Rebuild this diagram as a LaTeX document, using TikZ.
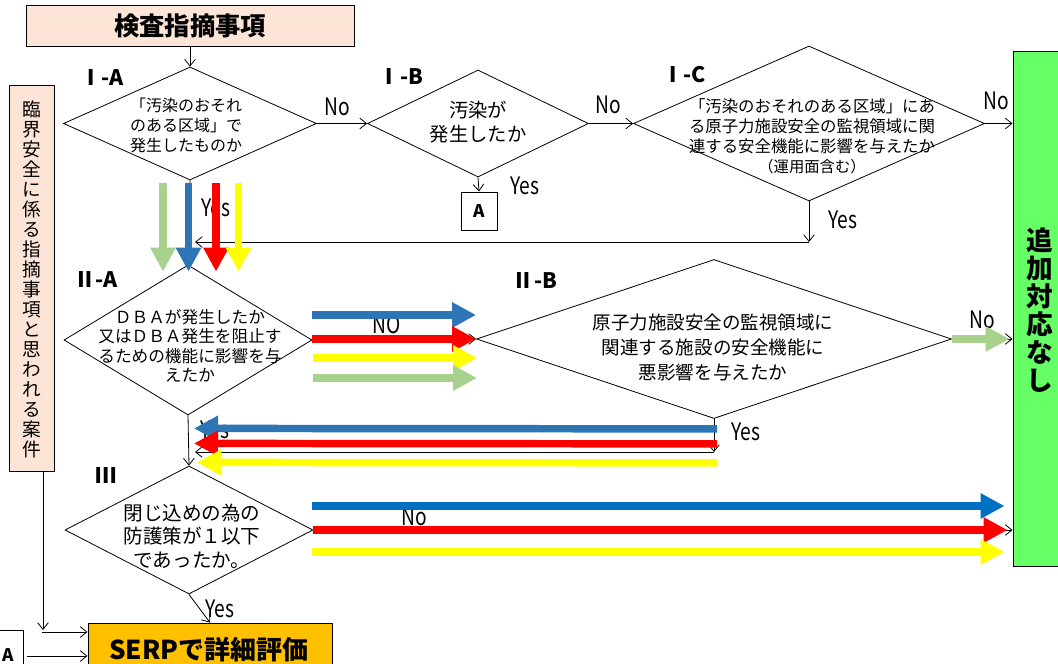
\documentclass[tikz,border=0pt]{standalone}
\usepackage{fontspec}
\setmainfont{Noto Sans CJK JP}
\newfontfamily\condfont{Noto Sans CJK JP}[FakeStretch=0.8]
\usetikzlibrary{shapes.geometric,arrows.meta,calc}
\definecolor{peach}{HTML}{FCE4D6}
\definecolor{serpor}{HTML}{FFC000}
\definecolor{gbox}{HTML}{66FF66}
\definecolor{fblue}{HTML}{2E75B6}
\definecolor{fbluetwo}{HTML}{0070C0}
\definecolor{fred}{HTML}{FF0000}
\definecolor{fyel}{HTML}{FFFF00}
\definecolor{fgreen}{HTML}{A9D18E}
\newcommand{\pxu}{0.75pt}
\tikzset{
  dia/.style={draw, diamond, inner sep=0pt, line width=0.6pt},
  boxst/.style={draw, rectangle, inner sep=0pt, line width=0.7pt},
  conn/.style={draw, line width=0.6pt, -{Straight Barb[length=5pt,width=8pt]}},
  fat/.style={line width=5.6pt, -{Triangle[length=18pt,width=18pt]}},
  lab/.style={font=\condfont\fontsize{18}{18}\selectfont, inner sep=0pt},
  hd/.style={font=\bfseries\fontsize{16}{16}\selectfont, inner sep=0pt},
  txt/.style={align=center, inner sep=0pt},
}
\begin{document}
\begin{tikzpicture}[x=0.75pt,y=-0.75pt]
\clip (0,0) rectangle (1058,664);
\fill[white] (0,0) rectangle (1058,664);

% boxes
\node[boxst, fill=peach, minimum width=328*\pxu, minimum height=41*\pxu,
      font=\bfseries\fontsize{19}{19}\selectfont] (top) at (190,25.5) {検査指摘事項};
\node[boxst, fill=peach, minimum width=45*\pxu, minimum height=386*\pxu] (lb) at (31.5,278) {};
\node[txt, font=\fontsize{14}{15}\selectfont] (lbt) at (31.5,279)
  {臨\\界\\安\\全\\に\\係\\る\\指\\摘\\事\\項\\と\\思\\わ\\れ\\る\\案\\件};
\node[boxst, fill=gbox, minimum width=62*\pxu, minimum height=515*\pxu] (gb) at (1044,308.5) {};
\node[txt, font=\bfseries\fontsize{20}{21}\selectfont] (gbt) at (1040,310) {追\\加\\対\\応\\な\\し};
\node[boxst, minimum width=36*\pxu, minimum height=38*\pxu, font=\bfseries\fontsize{13}{13}\selectfont] (a1) at (479,211) {A};
\node[boxst, minimum width=43*\pxu, minimum height=60*\pxu] (a2) at (1.5,660) {};
\node[hd, font=\bfseries\fontsize{13}{13}\selectfont] (a2t) at (8,655) {A};
\node[boxst, fill=serpor, minimum width=244*\pxu, minimum height=67*\pxu] (serp) at (210,656.5) {};
\node[inner sep=0pt, font=\bfseries\fontsize{19.5}{20}\selectfont] (serpt) at (209,650) {SERPで詳細評価};

% diamonds
\node[dia, minimum width=253*\pxu, minimum height=113*\pxu] (ia) at (190,123.5) {};
\node[txt, font=\fontsize{12}{15}\selectfont] (iat) at (186,125) {「汚染のおそれ\\のある区域」で\\発生したものか};
\node[dia, minimum width=221*\pxu, minimum height=107*\pxu] (ib) at (478,123.5) {};
\node[txt, font=\fontsize{14.5}{18.5}\selectfont] (ibt) at (478,122) {汚染が\\発生したか};
\node[dia, minimum width=351*\pxu, minimum height=155*\pxu] (ic) at (809,123.5) {};
\node[txt, font=\fontsize{12.3}{15}\selectfont] (ict) at (812,136)
  {「汚染のおそれのある区域」にあ\\る原子力施設安全の監視領域に関\\連する安全機能に影響を与えたか\\{\fontsize{11.5}{13}\selectfont （運用面含む）}};
\node[dia, minimum width=248*\pxu, minimum height=150*\pxu] (iia) at (188,340) {};
\node[txt, font=\fontsize{12.5}{14.6}\selectfont] (iiat) at (190,346)
  {ＤＢＡが発生したか\\又はＤＢＡ発生を阻止す\\るための機能に影響を与\\えたか};
\node[dia, minimum width=475*\pxu, minimum height=159*\pxu] (iib) at (714,339) {};
\node[txt, font=\fontsize{13.9}{18.75}\selectfont] (iibt) at (713,347)
  {原子力施設安全の監視領域に\\関連する施設の安全機能に\\悪影響を与えたか};
\node[dia, minimum width=248*\pxu, minimum height=128*\pxu] (iii) at (189,530) {};
\node[txt, font=\fontsize{14.7}{17.6}\selectfont] (iiit) at (192,536)
  {閉じ込めの為の\\防護策が１以下\\であったか。};

% headings
\node[hd] (hia) at (102,78) {Ⅰ-A};
\node[hd] (hib) at (401,77) {Ⅰ-B};
\node[hd] (hic) at (684,75) {Ⅰ-C};
\node[hd] (hiia) at (96,280) {Ⅱ-A};
\node[hd] (hiib) at (535,281) {Ⅱ-B};
\node[hd] (hiii) at (106,476) {Ⅲ};

% thin connectors
\coordinate (c1) at (809,242);
\coordinate (c2) at (195,242);
\coordinate (c3) at (714,452);
\coordinate (c4) at (195,452);
\coordinate (d1) at (43,630);
\coordinate (d2) at (42,632);
\coordinate (d3) at (27,656);
\draw[conn] (top.south) -- (ia.north);
\draw[conn] (ia.east) -- (ib.west);
\draw[conn] (ib.east) -- (ic.west);
\draw[conn] (ic.east) -- (ic.east -| gb.west);
\draw[conn] (ib.south) -- (a1.north);
\draw[conn] (ic.south) -- (c1);
\draw[conn] (c1) -- (c2);
\draw[conn] (ia.south) -- (iia.north);
\draw[conn] (iia.east) -- (iib.west);
\draw[conn] (iib.east) -- (iib.east -| gb.west);
\draw[conn] (iib.south) -- (c3);
\draw[conn] (c3) -- (c4);
\draw[conn] (iia.south) -- (iii.north);
\draw[conn] (iii.east) -- (iii.east -| gb.west);
\draw[conn] (iii.south) -- (serp.north);
\draw[conn] (lb.south -| d1) -- (d1);
\draw[conn] (d2) -- (d2 -| serp.west);
\draw[conn] (d3) -- (d3 -| serp.west);

% yes/no labels
\node[lab] (no1) at (337,107) {No};
\node[lab] (no2) at (608,105) {No};
\node[lab] (no3) at (996,101) {No};
\node[lab] (yes1) at (525,186) {Yes};
\node[lab] (yes2) at (843,220) {Yes};
\node[lab] (yes3) at (216,208) {Yes};
\node[lab] (no4) at (387,325) {NO};
\node[lab] (no5) at (982,320) {No};
\node[lab] (yes4) at (746,432) {Yes};
\node[lab] (yes5) at (215,430) {Yes};
\node[lab] (no6) at (414,517) {No};
\node[lab] (yes6) at (220,609) {Yes};

% fat arrows: I-A down to II-A
\draw[fat, fgreen]   ($(ia.south)+(-27,3)$)  -- ($(iia.north)+(-25,7)$);
\draw[fat, fblue]    ($(ia.south)+(-1.5,3)$) -- ($(iia.north)+(0.5,7)$);
\draw[fat, fred]     ($(ia.south)+(26,3)$)   -- ($(iia.north)+(28,7)$);
\draw[fat, fyel]     ($(ia.south)+(48.5,3)$) -- ($(iia.north)+(50.5,7)$);
% II-A to II-B
\draw[fat, fblue]    ($(iia.east)+(0,-25)$) -- ($(iib.west)+(0,-24)$);
\draw[fat, fred]     ($(iia.east)+(0,-1)$)  -- ($(iib.west)+(0,0)$);
\draw[fat, fyel]     ($(iia.east)+(1,18)$)  -- ($(iib.west)+(1,19)$);
\draw[fat, fgreen]   ($(iia.east)+(1,38)$)  -- ($(iib.west)+(1,39)$);
% II-B back to II-A / III
\draw[fat, fblue]    ($(iib.south)+(3,10)$) -- ($(iia.south)+(6,13)$);
\draw[fat, fred]     ($(iib.south)+(3,25)$) -- ($(iia.south)+(6,28)$);
\draw[fat, fyel]     ($(iib.south)+(3,44)$) -- ($(iia.south)+(9,47)$);
% II-B to green box
\draw[fat, fgreen]   (iib.east) -- ($(iib.east -| gb.west)+(-3,0)$);
% III to green box
\draw[fat, fbluetwo] ($(iii.east)+(-1,-24)$) -- ($(iii.east -| gb.west)+(-8,-24)$);
\draw[fat, fred]     (iii.east) -- ($(iii.east -| gb.west)+(-5,0)$);
\draw[fat, fyel]     ($(iii.east)+(-1,22)$) -- ($(iii.east -| gb.west)+(-8,22)$);
\end{tikzpicture}
\end{document}
